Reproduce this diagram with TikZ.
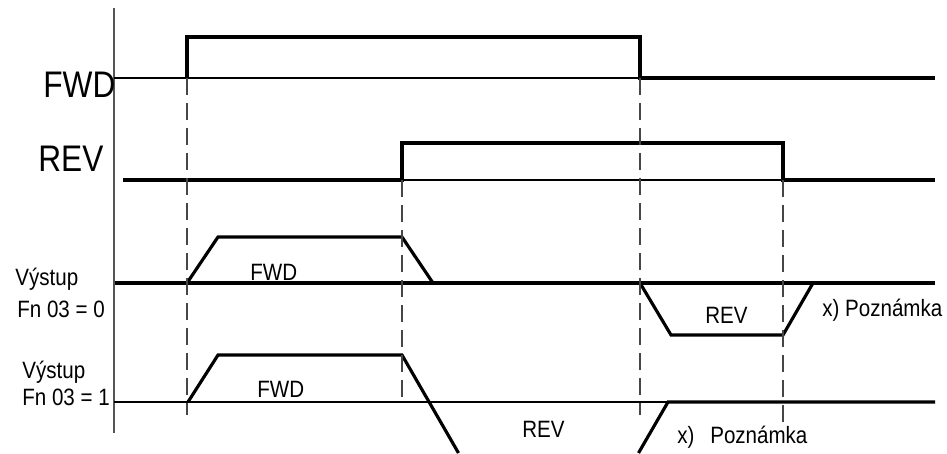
\documentclass[tikz,border=0pt]{standalone}
\usepackage{fontspec}
\setmainfont{Liberation Sans}
\usepackage{tikz}
\usetikzlibrary{positioning}
\definecolor{axisgray}{RGB}{85, 85, 85}
\definecolor{guidegray}{RGB}{70, 70, 70}

\begin{document}
\begin{tikzpicture}[
        signal/.style={draw=black, line width=1.8pt, line join=miter},
        baseline/.style={draw=black, line width=0.6pt},
        timeaxis/.style={draw=axisgray, line width=0.7pt},
        guide/.style={draw=guidegray, line width=0.6pt, dash pattern=on 0.34cm off 0.16cm},
        biglabel/.style={font=\fontsize{18}{20}\selectfont, inner sep=0pt, anchor=base west, yscale=1.17, transform shape},
        smalllabel/.style={font=\fontsize{11.7}{14}\selectfont, inner sep=0pt, anchor=base west, yscale=1.15, transform shape}
    ]
        \useasboundingbox (0,0) rectangle (18.94, 9.06);

        % Time axis
        \draw[timeaxis] (2.28, 8.9) -- (2.28, 0.4);

        % Signal names
        \node[biglabel] (fwdname) at (0.86, 7.1) {FWD};
        \node[biglabel] (revname) at (0.76, 5.62) {REV};
        \node[smalllabel] (out0a) at (0.30, 3.36) {Výstup};
        \node[smalllabel] (out0b) at (0.34, 2.72) {Fn 03 = 0};
        \node[smalllabel] (out1a) at (0.44, 1.5) {Výstup};
        \node[smalllabel] (out1b) at (0.44, 0.96) {Fn 03 = 1};

        % FWD command
        \draw[baseline] (2.28, 7.5) -- (12.8, 7.5);
        \draw[signal] (3.74, 7.5) -- (3.74, 8.32) -- (12.8, 8.32) -- (12.8, 7.5) -- (18.7, 7.5);

        % REV command
        \draw[baseline] (8.04, 5.46) -- (15.66, 5.46);
        \draw[signal] (2.46, 5.46) -- (8.04, 5.46) -- (8.04, 6.2) -- (15.66, 6.2) -- (15.66, 5.46) -- (18.7, 5.46);

        % Output, Fn 03 = 0
        \draw[signal] (2.3, 3.4) -- (18.7, 3.4);
        \draw[signal] (3.74, 3.4) -- (4.36, 4.32) -- (8.04, 4.32) -- (8.66, 3.4);
        \draw[signal] (12.8, 3.4) -- (13.42, 2.36) -- (15.66, 2.36) -- (16.26, 3.4);
        \node[smalllabel] (fwd0) at (5.0, 3.46) {FWD};
        \node[smalllabel] (rev0) at (14.1, 2.6) {REV};
        \node[smalllabel] (note0) at (16.44, 2.74) {x) Poznámka};

        % Output, Fn 03 = 1
        \draw[baseline] (2.28, 1.02) -- (13.36, 1.02);
        \draw[signal] (3.76, 1.02) -- (4.36, 1.96) -- (8.04, 1.96) -- (9.17, 0);
        \draw[signal] (12.77, 0) -- (13.36, 1.02) -- (18.7, 1.02);
        \node[smalllabel] (fwd1) at (5.14, 1.12) {FWD};
        \node[smalllabel] (rev1) at (10.44, 0.32) {REV};
        \node[smalllabel] (note1) at (13.54, 0.2) {x)\hspace{9pt}Poznámka};

        % Switching instants
        \draw[guide] (3.74, 7.5) -- (3.74, 0.76);
        \draw[guide] (8.04, 5.46) -- (8.04, 1.0);
        \draw[guide] (12.8, 7.5) -- (12.8, 0.76);
        \draw[guide] (15.66, 5.46) -- (15.66, 0.62);
    \end{tikzpicture}
\end{document}
